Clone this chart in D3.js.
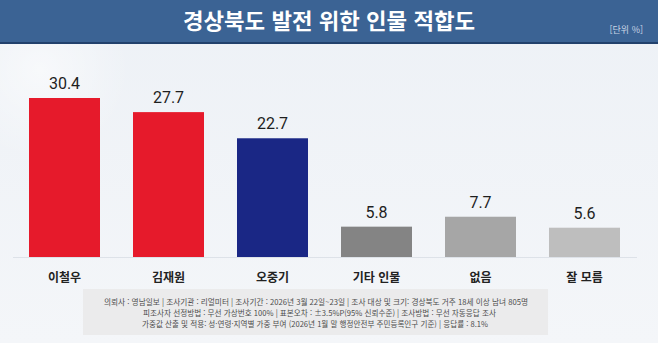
<!DOCTYPE html>
<html lang="ko">
<head>
<meta charset="utf-8">
<script src="https://cdn.jsdelivr.net/npm/d3@7"></script>
<style>
  html, body { margin: 0; padding: 0; background: #eff2f6; }
  svg { display: block; }
</style>
</head>
<body>
<svg id="chart" width="658" height="343"></svg>
<script>
// Survey results (unit: %)
const categories = ["이철우", "김재원", "오중기", "기타 인물", "없음", "잘 모름"];
const values = [30.4, 27.7, 22.7, 5.8, 7.7, 5.6];
const barColors = ["#e61a2b", "#e61a2b", "#1a2785", "#848484", "#a6a6a6", "#bebebe"];

const titleText = "경상북도 발전 위한 인물 적합도";
const unitText = "[단위 %]";
const noteLines = [
  "의뢰사 : 영남일보 | 조사기관 : 리얼미터  |  조사기간 : 2026년 3월 22일~23일 | 조사 대상 및 크기: 경상북도 거주 18세 이상 남녀 805명",
  "피조사자 선정방법 : 무선 가상번호  100% | 표본오차 : ±3.5%P(95%  신뢰수준)  | 조사방법 : 무선 자동응답  조사",
  "가중값 산출 및 적용: 성·연령·지역별  가중 부여 (2026년  1월 말 행정안전부  주민등록인구  기준) | 응답률 : 8.1%"
];

const W = 658, H = 343;
const svg = d3.select("#chart");
const KR = "'Noto Sans CJK KR', 'Noto Sans', sans-serif";

// Background
const defs = svg.append("defs");
const bg = defs.append("linearGradient").attr("id", "bg").attr("x1", 0).attr("y1", 0).attr("x2", 0).attr("y2", 1);
bg.append("stop").attr("offset", "0%").attr("stop-color", "#edf1f6");
bg.append("stop").attr("offset", "100%").attr("stop-color", "#f4f6f9");
svg.append("rect").attr("width", W).attr("height", H).attr("fill", "url(#bg)");

const glow = defs.append("radialGradient").attr("id", "glow");
glow.append("stop").attr("offset", "0%").attr("stop-color", "#ffffff").attr("stop-opacity", 0.55);
glow.append("stop").attr("offset", "100%").attr("stop-color", "#ffffff").attr("stop-opacity", 0);
svg.append("circle").attr("cx", 40).attr("cy", 70).attr("r", 90).attr("fill", "url(#glow)");

// Header band
svg.append("rect").attr("x", 0).attr("y", 0).attr("width", W).attr("height", 43).attr("fill", "#3b6394");
svg.append("rect").attr("x", 0).attr("y", 42).attr("width", W).attr("height", 2).attr("fill", "#22416c");

svg.append("text")
  .attr("x", W / 2).attr("y", 29)
  .attr("text-anchor", "middle")
  .attr("font-family", KR).attr("font-weight", 700).attr("font-size", 22)
  .attr("fill", "#ffffff")
  .attr("textLength", 292).attr("lengthAdjust", "spacingAndGlyphs")
  .text(titleText);

svg.append("text")
  .attr("x", 643).attr("y", 33)
  .attr("text-anchor", "end")
  .attr("font-family", KR).attr("font-size", 9)
  .attr("fill", "#c9d5e5")
  .text(unitText);

// Scales
const x = d3.scaleBand()
  .domain(categories)
  .range([12.5, 636.5])
  .paddingInner(33 / 104)
  .paddingOuter(33 / 208);

const y = d3.scaleLinear().domain([0, 30.4]).range([257, 98]);

// Baseline
svg.append("line")
  .attr("x1", 13).attr("x2", 637)
  .attr("y1", y(0) + 0.5).attr("y2", y(0) + 0.5)
  .attr("stroke", "#dde2e8").attr("stroke-width", 1);

// Bars
svg.append("g").selectAll("rect")
  .data(values)
  .join("rect")
  .attr("x", (d, i) => x(categories[i]))
  .attr("y", d => y(d))
  .attr("width", x.bandwidth())
  .attr("height", d => y(0) - y(d))
  .attr("fill", (d, i) => barColors[i]);

// Value labels
svg.append("g").selectAll("text")
  .data(values)
  .join("text")
  .attr("x", (d, i) => x(categories[i]) + x.bandwidth() / 2)
  .attr("y", d => y(d) - 9)
  .attr("text-anchor", "middle")
  .attr("font-family", "Roboto, Arial, sans-serif")
  .attr("font-size", 16)
  .attr("fill", "#1e1e1e")
  .text(d => d.toFixed(1));

// Category axis
const xAxis = svg.append("g")
  .attr("transform", `translate(0,${y(0)})`)
  .call(d3.axisBottom(x).tickSize(0).tickPadding(16));
xAxis.select(".domain").remove();
xAxis.selectAll("text")
  .attr("font-family", KR).attr("font-weight", 700).attr("font-size", 12)
  .attr("fill", "#222222");

// Survey notes box
svg.append("rect")
  .attr("x", 83).attr("y", 289).attr("width", 465).attr("height", 46)
  .attr("fill", "#ebebec");

const noteSpans = [[104, 528], [143, 496], [142, 488]];
svg.append("g").selectAll("text")
  .data(noteLines)
  .join("text")
  .attr("x", (d, i) => (noteSpans[i][0] + noteSpans[i][1]) / 2)
  .attr("y", (d, i) => 304.5 + i * 11)
  .attr("text-anchor", "middle")
  .attr("font-family", KR).attr("font-size", 8)
  .attr("fill", "#4d4d4d")
  .attr("textLength", (d, i) => noteSpans[i][1] - noteSpans[i][0])
  .attr("lengthAdjust", "spacingAndGlyphs")
  .text(d => d);
</script>
</body>
</html>
